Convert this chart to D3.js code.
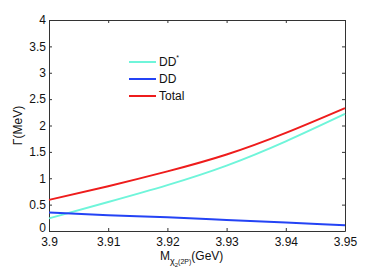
<!DOCTYPE html>
<html>
<head>
<meta charset="utf-8">
<script src="https://cdn.jsdelivr.net/npm/d3@7"></script>
<style>
  body { margin: 0; background: #fff; }
  text { font-family: "Liberation Sans", Arial, sans-serif; fill: #111; }
</style>
</head>
<body>
<div id="chart"></div>
<script>
// chart data
var masses = [3.90, 3.91, 3.92, 3.93, 3.94, 3.95];
var ddStar = [0.24, 0.55, 0.87, 1.24, 1.70, 2.22];
var dd     = [0.35, 0.30, 0.26, 0.21, 0.16, 0.11];
var total  = [0.59, 0.85, 1.13, 1.45, 1.86, 2.33];

var xTicks = [3.9, 3.91, 3.92, 3.93, 3.94, 3.95];
var yTicks = [0, 0.5, 1, 1.5, 2, 2.5, 3, 3.5, 4];

var seriesList = [
    {name: "DD", sup: "*", values: ddStar, color: "#6ff5da"},
    {name: "DD", sup: "", values: dd, color: "#2443f5"},
    {name: "Total", sup: "", values: total, color: "#ee1c1c"}
];

var margin = {top: 20, right: 37, bottom: 42, left: 49};
var width = 382 - margin.left - margin.right,
    height = 273 - margin.top - margin.bottom;

var svg = d3.select("#chart").append("svg")
    .attr("width", 382)
    .attr("height", 273)
    .append("g")
    .attr("transform", "translate(" + margin.left + "," + margin.top + ")");

var x = d3.scaleLinear().domain([3.9, 3.95]).range([0, width]);
var y = d3.scaleLinear().domain([0, 4]).range([height, 0]);

// axes, ticks pointing inward, box on all sides
var fmtX = function(d) { return d3.format("")(+d.toFixed(2)); };

svg.append("g")
    .attr("transform", "translate(0," + height + ")")
    .call(d3.axisBottom(x).tickValues(xTicks).tickSizeInner(-3).tickSizeOuter(0).tickPadding(6).tickFormat(fmtX));

svg.append("g")
    .call(d3.axisLeft(y).tickValues(yTicks).tickSizeInner(-3).tickSizeOuter(0).tickPadding(3).tickFormat(d3.format("")));

svg.append("g")
    .call(d3.axisTop(x).tickValues(xTicks).tickSizeInner(-3).tickSizeOuter(0).tickFormat(""));

svg.append("g")
    .attr("transform", "translate(" + width + ",0)")
    .call(d3.axisRight(y).tickValues(yTicks).tickSizeInner(-3).tickSizeOuter(0).tickFormat(""));

svg.selectAll(".domain").attr("stroke", "#333");
svg.selectAll(".tick line").attr("stroke", "#333");
svg.selectAll(".tick text")
    .style("font-family", "Liberation Sans, Arial, sans-serif")
    .style("font-size", "12px")
    .attr("fill", "#111");

// the "0" label sits just above the x labels, as in the original
svg.selectAll(".tick text")
    .filter(function(d) { return d === 0; })
    .attr("dy", "0.05em");

// curves
var line = d3.line()
    .x(function(d, i) { return x(masses[i]); })
    .y(function(d) { return y(d); })
    .curve(d3.curveNatural);

svg.selectAll("path.series")
    .data(seriesList)
    .enter().append("path")
    .attr("class", "series")
    .attr("fill", "none")
    .attr("stroke", function(d) { return d.color; })
    .attr("stroke-width", 2)
    .attr("d", function(d) { return line(d.values); });

// legend
var legend = svg.selectAll("g.legend")
    .data(seriesList)
    .enter().append("g")
    .attr("class", "legend")
    .attr("transform", function(d, i) { return "translate(80," + (42 + i * 17) + ")"; });

legend.append("line")
    .attr("x1", 0).attr("x2", 27)
    .attr("stroke", function(d) { return d.color; })
    .attr("stroke-width", 2);

var lt = legend.append("text")
    .attr("x", 30)
    .attr("y", 4)
    .style("font-size", "12px");
lt.append("tspan").text(function(d) { return d.name; });
lt.append("tspan")
    .attr("dy", -6)
    .style("font-size", "7px")
    .text(function(d) { return d.sup; });

// axis labels
var xl = svg.append("text")
    .attr("x", 111)
    .attr("y", height + 29)
    .style("font-size", "12px");
xl.append("tspan").text("M");
xl.append("tspan").attr("dy", 4).style("font-size", "9px").text("χ");
xl.append("tspan").attr("dy", 3).style("font-size", "6px").text("2");
xl.append("tspan").attr("dy", -3).style("font-size", "7px").text("(2P)");
xl.append("tspan").attr("dy", -4).style("font-size", "12px").text("(GeV)");

svg.append("text")
    .attr("transform", "translate(-27," + (height / 2) + ") rotate(-90)")
    .attr("text-anchor", "middle")
    .style("font-size", "12px")
    .text("Γ(MeV)");
</script>
</body>
</html>
